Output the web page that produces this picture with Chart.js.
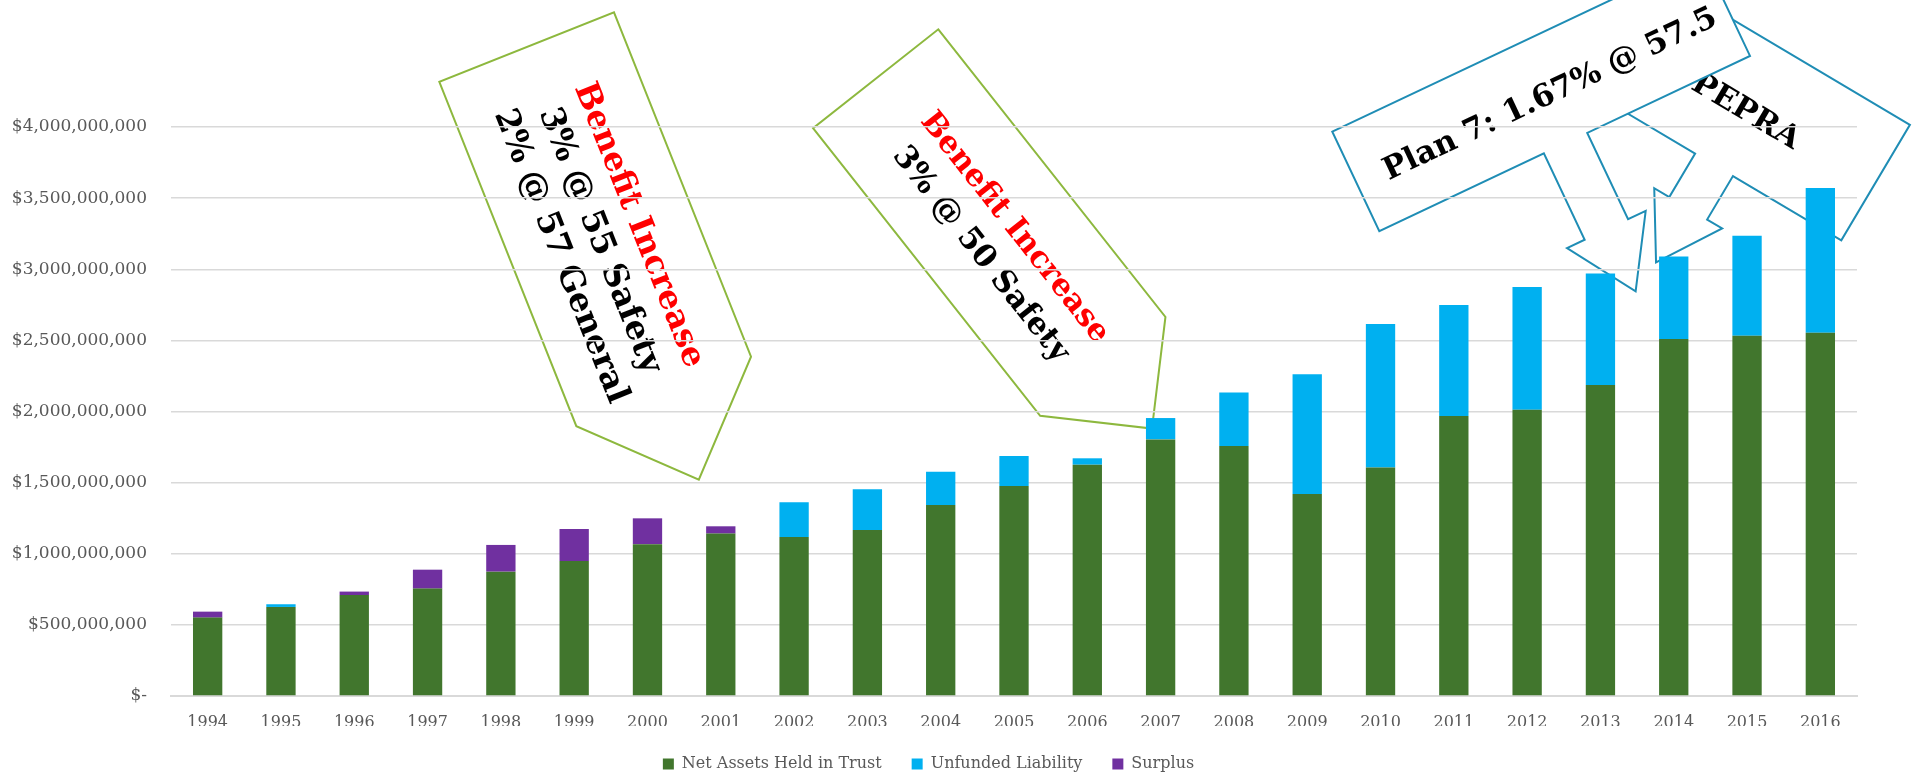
<!DOCTYPE html>
<html>
<head>
<meta charset="utf-8">
<title>Plan Funding 1994-2016</title>
<script src="https://cdn.jsdelivr.net/npm/chart.js@4.4.1/dist/chart.umd.min.js"></script>
<style>
  html, body { margin: 0; padding: 0; background: #fff; }
  #wrap { width: 1914px; height: 776px; }
</style>
</head>
<body>
<div id="wrap"><canvas id="fundChart" width="1914" height="776"></canvas></div>
<script>
// fiscal years on the x axis
const years = [
  "1994", "1995", "1996", "1997", "1998", "1999", "2000", "2001", "2002", "2003", "2004", "2005",
  "2006", "2007", "2008", "2009", "2010", "2011", "2012", "2013", "2014", "2015", "2016",
];

// all amounts in $ millions
const netAssets = [
  551, 626, 710, 755, 874, 949, 1067, 1142, 1118, 1167, 1343, 1476,
  1626, 1804, 1757, 1420, 1607, 1968, 2013, 2186, 2509, 2533, 2554,
];
const unfunded = [
  0, 19, 0, 0, 0, 0, 0, 0, 244, 286, 234, 211,
  45, 150, 377, 841, 1008, 780, 863, 784, 581, 703, 1017,
];
const surplus = [
  42, 0, 24, 133, 188, 225, 182, 51, 0, 0, 0, 0,
  0, 0, 0, 0, 0, 0, 0, 0, 0, 0, 0,
];

const yMax = 4000;
const yStep = 500;

const GRID = "#D9D9D9";
const LABEL = "#595959";
const SERIF = "'DejaVu Serif', serif";

// call-out shapes: outline in local coords (a along the shape, b across it),
// placed at origin and turned by angle (degrees)
const callouts = [
  {
    origin: [614, 12.3], angle: 68.3, stroke: "#8DB83E", size: 33,
    outline: [[0, 0], [370.6, 0], [465.6, 94], [370.6, 188], [0, 188]],
    textAt: [207, 98], gap: 42,
    lines: [["Benefit Increase", "#FF0000"], ["3% @ 55 Safety", "#000"], ["2% @ 57 General", "#000"]],
  },
  {
    origin: [938.3, 29.3], angle: 51.7, stroke: "#8DB83E", size: 31,
    outline: [[0, 0], [366.5, 0], [445.8, 79.8], [366.5, 159.6], [0, 159.6]],
    textAt: [203, 85], gap: 43,
    lines: [["Benefit Increase", "#FF0000"], ["3% @ 50 Safety", "#000"]],
  },
  {
    origin: [1655.4, -26.3], angle: 30.7, stroke: "#1F8DB5", size: 31,
    outline: [[0, 0], [296, 0], [296, 134.4], [170, 134.4], [170, 185], [187.5, 185],
      [148, 248], [108.5, 185], [126, 185], [126, 134.4], [0, 134.4]],
    textAt: [148, 73], gap: 0,
    lines: [["PEPRA", "#000"]],
  },
  {
    origin: [1332.3, 131.7], angle: -25.3, stroke: "#1F8DB5", size: 31,
    outline: [[0, 0], [410, 0], [410, 110], [230, 110], [230, 205.5], [249.5, 205.5],
      [206, 274], [162.5, 205.5], [182, 205.5], [182, 110], [0, 110]],
    textAt: [213, 60], gap: 0,
    lines: [["Plan 7: 1.67% @ 57.5", "#000"]],
  },
];

function place(origin, angle, a, b) {
  const r = (angle * Math.PI) / 180;
  const c = Math.cos(r), s = Math.sin(r);
  return [origin[0] + a * c - b * s, origin[1] + a * s + b * c];
}

// shapes sit behind the grid and the bars, like in the slide
const calloutPlugin = {
  id: "callouts",
  beforeInit(chart) {
    // keep the wide gaps between legend items but not the tall legend box
    const legend = chart.legend;
    const fit = legend.fit.bind(legend);
    legend.fit = function () {
      fit();
      this.height = 48;
    };
  },
  beforeDraw(chart) {
    const ctx = chart.ctx;
    callouts.forEach((co) => {
      ctx.save();
      ctx.beginPath();
      co.outline.forEach(([a, b], i) => {
        const [x, y] = place(co.origin, co.angle, a, b);
        if (i === 0) ctx.moveTo(x, y);
        else ctx.lineTo(x, y);
      });
      ctx.closePath();
      ctx.fillStyle = "#fff";
      ctx.fill();
      ctx.lineWidth = 2;
      ctx.lineJoin = "miter";
      ctx.strokeStyle = co.stroke;
      ctx.stroke();

      const [tx, ty] = place(co.origin, co.angle, co.textAt[0], co.textAt[1]);
      ctx.translate(tx, ty);
      ctx.rotate((co.angle * Math.PI) / 180);
      ctx.font = "bold " + co.size + "px " + SERIF;
      ctx.textAlign = "center";
      ctx.textBaseline = "middle";
      const n = co.lines.length;
      co.lines.forEach(([txt, color], i) => {
        ctx.fillStyle = color;
        ctx.fillText(txt, 0, (i - (n - 1) / 2) * co.gap);
      });
      ctx.restore();
    });
  },
};

function money(value) {
  if (value === 0) return "$-";
  return "$" + (value * 1e6).toLocaleString("en-US");
}

const ctx = document.getElementById("fundChart").getContext("2d");
new Chart(ctx, {
  type: "bar",
  data: {
    labels: years,
    datasets: [
      { label: "Net Assets Held in Trust", data: netAssets, backgroundColor: "#41762D" },
      { label: "Unfunded Liability", data: unfunded, backgroundColor: "#00B0F0" },
      { label: "Surplus", data: surplus, backgroundColor: "#7030A0" },
    ],
  },
  options: {
    responsive: false,
    animation: false,
    devicePixelRatio: 1,
    categoryPercentage: 0.8,
    barPercentage: 0.5,
    layout: { padding: { top: 127, right: 57, bottom: 2, left: 0 } },
    scales: {
      x: {
        stacked: true,
        afterFit(scale) { scale.height = 30; },
        grid: { display: false, drawTicks: false },
        border: { color: GRID, width: 2 },
        ticks: { color: LABEL, padding: 17, font: { family: SERIF, size: 16 } },
      },
      y: {
        stacked: true,
        min: 0,
        max: yMax,
        afterFit(scale) { scale.width = 171; },
        grid: { color: GRID, lineWidth: 1.5, drawTicks: false },
        border: { display: false },
        ticks: {
          stepSize: yStep,
          padding: 24,
          color: LABEL,
          font: { family: SERIF, size: 17 },
          callback: (v) => money(v),
        },
      },
    },
    plugins: {
      legend: {
        position: "bottom",
        labels: {
          boxWidth: 11,
          boxHeight: 11,
          padding: 30,
          color: LABEL,
          font: { family: SERIF, size: 16 },
        },
      },
      tooltip: { enabled: false },
    },
  },
  plugins: [calloutPlugin],
});
</script>
</body>
</html>
